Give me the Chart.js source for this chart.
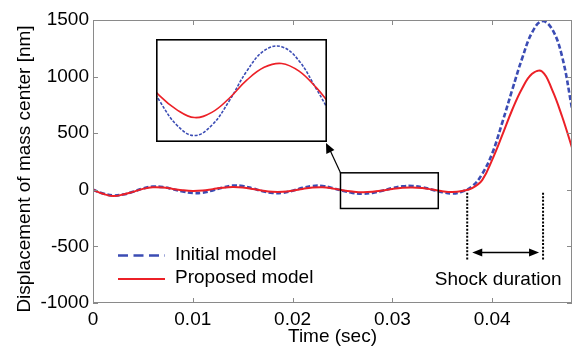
<!DOCTYPE html>
<html>
<head>
<meta charset="utf-8">
<script src="https://cdn.jsdelivr.net/npm/chart.js@4.4.1/dist/chart.umd.min.js"></script>
<style>
  html, body { margin: 0; padding: 0; background: #fff; }
  #wrap { position: relative; width: 576px; height: 350px; }
  #main { position: absolute; left: 0; top: 0; }
  #inset { position: absolute; left: 156px; top: 39px; }
</style>
</head>
<body>
<div id="wrap">
  <canvas id="main" width="576" height="350"></canvas>
  <canvas id="inset" width="171" height="103"></canvas>
</div>
<script>
// time axis (sec) and the two displacement curves [nm]
const timeSec = [0, 0.001, 0.002, 0.003, 0.004, 0.005, 0.006, 0.007, 0.008, 0.009,
  0.010, 0.011, 0.012, 0.013, 0.014, 0.015, 0.016, 0.017, 0.018, 0.019,
  0.020, 0.021, 0.022, 0.023, 0.024, 0.025, 0.026, 0.027, 0.028, 0.029,
  0.030, 0.031, 0.032, 0.033, 0.034, 0.035, 0.036, 0.037, 0.038, 0.039,
  0.040, 0.041, 0.042, 0.043, 0.044, 0.045, 0.046, 0.047, 0.048];
const initialModel = [0, -32, -50, -42, -18, 12, 28, 24, 6, -15,
  -28, -25, -5, 20, 37, 33, 12, -12, -28, -27,
  -8, 17, 34, 34, 15, -8, -27, -35, -27, -8,
  15, 31, 34, 23, 1, -21, -33, -15, 30, 140,
  320, 590, 880, 1160, 1390, 1490, 1420, 1180, 720];
const proposedModel = [0, -35, -55, -42, -18, 8, 22, 20, 8, -4,
  -10, -6, 6, 18, 24, 20, 8, -8, -18, -18,
  -8, 8, 20, 23, 12, -4, -15, -21, -17, -6,
  8, 18, 21, 15, 2, -13, -20, -10, 15, 85,
  265, 480, 705, 895, 1025, 1045, 885, 650, 373];
const seriesNames = ['Initial model', 'Proposed model'];

const xTicks = [0, 0.01, 0.02, 0.03, 0.04];
const xTickLabels = ['0', '0.01', '0.02', '0.03', '0.04'];
const yTicks = [-1000, -500, 0, 500, 1000, 1500];

// region that the inset blows up, and the shock markers
const zoomWindow = { x0: 0.0248, x1: 0.0346, y0: -165, y1: 150 };
const insetY = [-40, 40];
const shockStart = 0.0375;
const shockEnd = 0.0451;

const FONT = '"Liberation Sans", Arial, Helvetica, sans-serif';
const BLUE = '#3b4cb4';
const RED = '#ec2027';

Chart.defaults.font.family = FONT;
Chart.defaults.font.size = 19;
Chart.defaults.color = '#000';

const toPoints = ys => timeSec.map((t, i) => ({ x: t, y: ys[i] }));

function arrowHead(ctx, fx, fy, tx, ty, len, half) {
  const a = Math.atan2(ty - fy, tx - fx);
  const bx = tx - len * Math.cos(a), by = ty - len * Math.sin(a);
  ctx.beginPath();
  ctx.moveTo(tx, ty);
  ctx.lineTo(bx + half * Math.sin(a), by - half * Math.cos(a));
  ctx.lineTo(bx - half * Math.sin(a), by + half * Math.cos(a));
  ctx.closePath();
  ctx.fill();
}

// box round the axes with matlab style inward ticks
const framePlugin = {
  id: 'frame',
  afterDraw(chart) {
    const { ctx, chartArea: a, scales: { x, y } } = chart;
    ctx.save();
    ctx.strokeStyle = '#8a8a8a';
    ctx.lineWidth = 1;
    ctx.strokeRect(a.left + 0.5, a.top + 0.5, a.width - 1, a.height - 1);
    ctx.beginPath();
    xTicks.forEach(v => {
      const px = Math.round(x.getPixelForValue(v)) + 0.5;
      ctx.moveTo(px, a.bottom); ctx.lineTo(px, a.bottom - 5);
      ctx.moveTo(px, a.top); ctx.lineTo(px, a.top + 5);
    });
    yTicks.forEach(v => {
      const py = Math.round(y.getPixelForValue(v)) + 0.5;
      ctx.moveTo(a.left, py); ctx.lineTo(a.left + 5, py);
      ctx.moveTo(a.right, py); ctx.lineTo(a.right - 5, py);
    });
    ctx.stroke();
    ctx.restore();
  }
};

// zoom box, connector, shock markers, legend and y title
const notesPlugin = {
  id: 'notes',
  afterDatasetsDraw(chart) {
    const { ctx, chartArea: a, scales: { x, y } } = chart;
    ctx.save();

    // zoom rectangle + arrow to inset corner
    const rx0 = x.getPixelForValue(zoomWindow.x0), rx1 = x.getPixelForValue(zoomWindow.x1);
    const ry0 = y.getPixelForValue(zoomWindow.y1), ry1 = y.getPixelForValue(zoomWindow.y0);
    ctx.strokeStyle = '#000';
    ctx.fillStyle = '#000';
    ctx.lineWidth = 1.5;
    ctx.strokeRect(rx0, ry0, rx1 - rx0, ry1 - ry0);
    const inset = document.getElementById('inset');
    const tipX = inset.offsetLeft + inset.width - 1, tipY = inset.offsetTop + inset.height + 1;
    ctx.lineWidth = 1.2;
    ctx.beginPath();
    ctx.moveTo(rx0, ry0);
    ctx.lineTo(tipX + 3, tipY + 5);
    ctx.stroke();
    arrowHead(ctx, rx0, ry0, tipX, tipY, 10, 4.5);

    // dotted verticals
    ctx.setLineDash([2, 1.6]);
    ctx.lineWidth = 2;
    [shockStart, shockEnd].forEach(t => {
      const px = x.getPixelForValue(t);
      ctx.beginPath();
      ctx.moveTo(px, y.getPixelForValue(-25));
      ctx.lineTo(px, y.getPixelForValue(-620));
      ctx.stroke();
    });
    ctx.setLineDash([]);

    // double arrow
    const ay = y.getPixelForValue(-553);
    const ax0 = x.getPixelForValue(shockStart) + 5, ax1 = x.getPixelForValue(shockEnd) - 4;
    ctx.lineWidth = 1.5;
    ctx.beginPath();
    ctx.moveTo(ax0 + 6, ay); ctx.lineTo(ax1 - 6, ay);
    ctx.stroke();
    arrowHead(ctx, ax1, ay, ax0, ay, 10, 4);
    arrowHead(ctx, ax0, ay, ax1, ay, 10, 4);

    ctx.font = '19px ' + FONT;
    ctx.textAlign = 'center';
    ctx.textBaseline = 'middle';
    ctx.fillText('Shock duration', x.getPixelForValue(0.0406), y.getPixelForValue(-795));

    // legend
    const lx0 = a.left + 25, lx1 = a.left + 72;
    const ly = [255.5, 279];
    ctx.lineWidth = 2.5;
    ctx.strokeStyle = BLUE;
    ctx.setLineDash([10, 5.5]);
    ctx.beginPath(); ctx.moveTo(lx0, ly[0]); ctx.lineTo(lx1, ly[0]); ctx.stroke();
    ctx.setLineDash([]);
    ctx.strokeStyle = RED;
    ctx.lineWidth = 2;
    ctx.beginPath(); ctx.moveTo(lx0, ly[1]); ctx.lineTo(lx1, ly[1]); ctx.stroke();
    ctx.textAlign = 'left';
    ctx.fillStyle = '#000';
    ctx.fillText(seriesNames[0], lx1 + 10, ly[0] - 1);
    ctx.fillText(seriesNames[1], lx1 + 10, ly[1] - 1);

    // y title
    ctx.translate(25, 169);
    ctx.rotate(-Math.PI / 2);
    ctx.textAlign = 'center';
    ctx.fillText('Displacement of mass center [nm]', 0, 0);
    ctx.restore();
  }
};

new Chart(document.getElementById('main'), {
  type: 'line',
  data: {
    datasets: [
      {
        label: seriesNames[1],
        data: toPoints(proposedModel),
        borderColor: RED,
        borderWidth: 2,
        pointRadius: 0,
        tension: 0.4,
      },
      {
        label: seriesNames[0],
        data: toPoints(initialModel),
        borderColor: BLUE,
        borderWidth: 2.6,
        borderDash: [5, 2.5],
        pointRadius: 0,
        tension: 0.4,
      },
    ],
  },
  options: {
    responsive: false,
    animation: false,
    events: [],
    layout: { padding: { top: 20, right: 4, left: 0, bottom: 0 } },
    plugins: { legend: { display: false }, tooltip: { enabled: false } },
    scales: {
      x: {
        type: 'linear',
        min: 0,
        max: 0.048,
        afterBuildTicks: s => { s.ticks = xTicks.map(v => ({ value: v })); },
        afterFit: s => { s.height = 47; },
        ticks: { callback: (v, i) => xTickLabels[i], padding: 5, maxRotation: 0, autoSkip: false },
        grid: { display: false, drawTicks: false },
        border: { display: false },
        title: { display: true, text: 'Time (sec)', padding: { top: 0, bottom: 2 } },
      },
      y: {
        type: 'linear',
        min: -1000,
        max: 1500,
        afterBuildTicks: s => { s.ticks = yTicks.map(v => ({ value: v })); },
        afterFit: s => { s.width = 93; },
        ticks: { callback: v => String(v), padding: 4, autoSkip: false },
        grid: { display: false, drawTicks: false },
        border: { display: false },
      },
    },
  },
  plugins: [framePlugin, notesPlugin],
});

// blown-up view of the zoom rectangle
const insetBorder = {
  id: 'insetBorder',
  afterDraw(chart) {
    const { ctx, width, height } = chart;
    ctx.save();
    ctx.strokeStyle = '#000';
    ctx.lineWidth = 1.6;
    ctx.strokeRect(0.8, 0.8, width - 1.6, height - 1.6);
    ctx.restore();
  }
};

new Chart(document.getElementById('inset'), {
  type: 'line',
  data: {
    datasets: [
      {
        data: toPoints(proposedModel),
        borderColor: RED,
        borderWidth: 1.6,
        pointRadius: 0,
        tension: 0.4,
      },
      {
        data: toPoints(initialModel),
        borderColor: BLUE,
        borderWidth: 1.6,
        borderDash: [3, 1.5],
        pointRadius: 0,
        tension: 0.4,
      },
    ],
  },
  options: {
    responsive: false,
    animation: false,
    events: [],
    layout: { padding: 0 },
    plugins: { legend: { display: false }, tooltip: { enabled: false } },
    scales: {
      x: { type: 'linear', display: false, min: zoomWindow.x0, max: zoomWindow.x1 },
      y: { display: false, min: insetY[0], max: insetY[1] },
    },
  },
  plugins: [insetBorder],
});
</script>
</body>
</html>
